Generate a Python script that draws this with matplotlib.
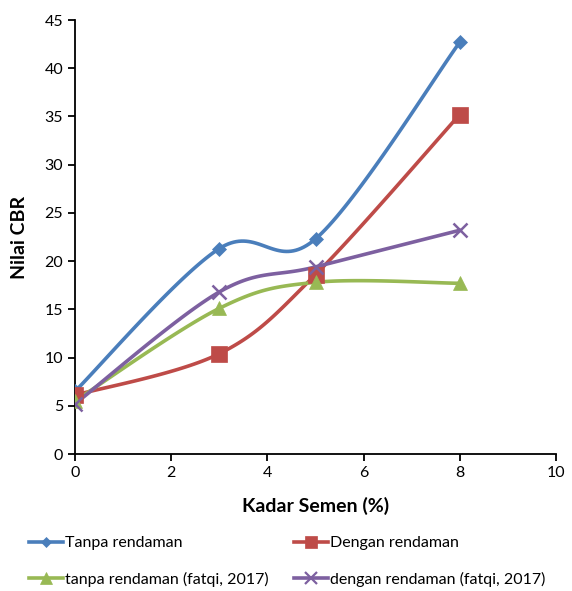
import numpy as np
import matplotlib
matplotlib.use("Agg")
import matplotlib.pyplot as plt
from matplotlib.lines import Line2D

plt.rcParams["font.family"] = ["Lato", "DejaVu Sans"]

# Data
kadar_semen = [0, 3, 5, 8]
tanpa_rendaman = [6.5, 21.3, 22.3, 42.7]
dengan_rendaman = [6.1, 10.4, 18.6, 35.2]
tanpa_fatqi = [5.5, 15.1, 17.8, 17.7]
dengan_fatqi = [5.2, 16.8, 19.4, 23.2]

labels = [
    "Tanpa rendaman",
    "Dengan rendaman",
    "tanpa rendaman (fatqi, 2017)",
    "dengan rendaman (fatqi, 2017)",
]
colors = ["#4A7EBB", "#BE4B48", "#98B954", "#7D60A0"]
markers = ["D", "s", "^", "x"]
msizes = [7, 11, 10, 10]


def smooth(x, y, n=40):
    # Excel style smoothed line: Catmull-Rom based cubic Bezier segments
    p = np.column_stack([x, y]).astype(float)
    out = [p[0]]
    for i in range(len(p) - 1):
        p0 = p[i - 1] if i > 0 else p[i]
        p3 = p[i + 2] if i + 2 < len(p) else p[i + 1]
        c1 = p[i] + (p[i + 1] - p0) / 6
        c2 = p[i + 1] - (p3 - p[i]) / 6
        t = np.linspace(0, 1, n)[1:, None]
        seg = ((1 - t) ** 3 * p[i] + 3 * (1 - t) ** 2 * t * c1
               + 3 * (1 - t) * t ** 2 * c2 + t ** 3 * p[i + 1])
        out.extend(seg)
    out = np.array(out)
    return out[:, 0], out[:, 1]


fig = plt.figure(figsize=(5.72, 5.91), dpi=100)
ax = fig.add_axes([75 / 572, 1 - 454 / 591, (556 - 75) / 572, (454 - 20) / 591])

series = [tanpa_rendaman, dengan_rendaman, tanpa_fatqi, dengan_fatqi]
handles = []
for ys, c, m, ms, lab in zip(series, colors, markers, msizes, labels):
    sx, sy = smooth(kadar_semen, ys)
    ax.plot(sx, sy, color=c, lw=2.6, solid_capstyle="round", zorder=2)
    ax.plot(kadar_semen, ys, ls="none", marker=m, ms=ms, color=c,
            mew=1.8 if m == "x" else 0.5, zorder=3)
    handles.append(Line2D([], [], color=c, lw=2.6, marker=m, ms=ms * 0.8,
                          mew=1.6 if m == "x" else 0.5))

ax.set_xlim(0, 10)
ax.set_ylim(0, 45)
ax.set_xticks(range(0, 11, 2))
ax.set_yticks(range(0, 46, 5))
ax.spines["top"].set_visible(False)
ax.spines["right"].set_visible(False)
for s in ["left", "bottom"]:
    ax.spines[s].set_linewidth(1.3)
ax.tick_params(axis="both", labelsize=11.5, width=1.3, length=5, direction="out")
ax.set_xlabel("Kadar Semen (%)", fontsize=14, fontweight="bold", labelpad=12)
ax.set_ylabel("Nilai CBR", fontsize=14, fontweight="bold", labelpad=12)

# legend is filled column by column, so reorder to read row by row
order = [0, 2, 1, 3]
fig.legend([handles[i] for i in order], [labels[i] for i in order],
           loc="lower left", bbox_to_anchor=(21 / 572, -4 / 591), borderaxespad=0.1,
           ncol=2, frameon=False, fontsize=11.5, handlelength=2.1,
           handletextpad=0.15, columnspacing=1.6, labelspacing=1.35)

fig.savefig("out.png", dpi=100)
